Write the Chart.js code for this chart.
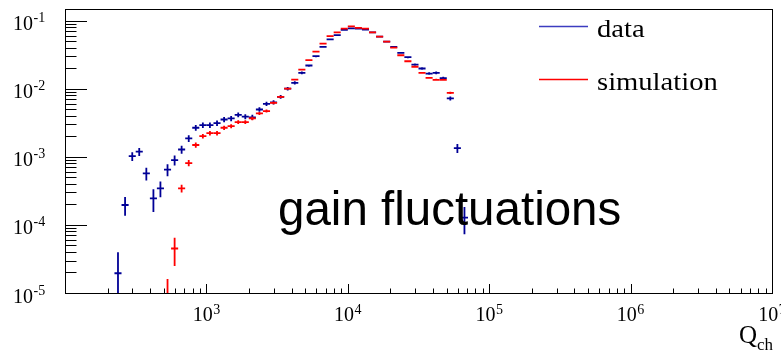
<!DOCTYPE html>
<html>
<head>
<meta charset="utf-8">
<script src="https://cdn.jsdelivr.net/npm/chart.js@4.4.1/dist/chart.umd.min.js"></script>
<style>
html,body{margin:0;padding:0;background:#fff;}
#wrap{width:781px;height:353px;}
</style>
</head>
<body>
<div id="wrap"><canvas id="c" width="781" height="353"></canvas></div>
<script>
// Bin centres (Q_ch), 20 log bins per decade
const binCenters = [237, 266, 299, 335, 376, 422, 473, 531, 596, 668,
  750, 841, 944, 1059, 1189, 1334, 1496, 1679, 1884, 2113,
  2371, 2661, 2985, 3350, 3758, 4217, 4732, 5309, 5957, 6683,
  7499, 8414, 9441, 10593, 11885, 13335, 14962, 16788, 18836, 21135,
  23714, 26607, 29854, 33497, 37584, 42170, 47315, 53088, 59566, 66834];
const binHalfWidthDex = 0.025;

const dataValues = [1.95e-5, 1.96e-4, 1.02e-3, 1.19e-3, 5.7e-4, 2.45e-4, 3.44e-4, 6.5e-4, 8.95e-4, 1.28e-3,
  1.86e-3, 2.67e-3, 2.92e-3, 2.92e-3, 3.12e-3, 3.53e-3, 3.66e-3, 4.14e-3, 3.9e-3, 3.8e-3,
  4.95e-3, 6.0e-3, 6.3e-3, 7.6e-3, 1.0e-2, 1.22e-2, 1.71e-2, 2.19e-2, 3.0e-2, 4.1e-2,
  5.3e-2, 6.1e-2, 7.3e-2, 7.7e-2, 7.6e-2, 7.4e-2, 6.7e-2, 5.8e-2, 4.9e-2, 4.1e-2,
  3.36e-2, 2.9e-2, 2.26e-2, 1.98e-2, 1.67e-2, 1.71e-2, 1.43e-2, 7.2e-3, 1.34e-3, 1.28e-4];
const dataErrors = [2.0e-5, 6.0e-5, 1.5e-4, 1.6e-4, 1.2e-4, 9.0e-5, 9.0e-5, 1.3e-4, 1.5e-4, 1.7e-4,
  2.1e-4, 2.6e-4, 2.8e-4, 2.8e-4, 2.9e-4, 3.1e-4, 3.2e-4, 3.4e-4, 3.3e-4, 3.3e-4,
  3.7e-4, 4.2e-4, 4.4e-4, 4.9e-4, 5.6e-4, 6.3e-4, 7.4e-4, 8.4e-4, 9.8e-4, 1.15e-3,
  1.3e-3, 1.4e-3, 1.5e-3, 1.55e-3, 1.55e-3, 1.5e-3, 1.45e-3, 1.35e-3, 1.25e-3, 1.15e-3,
  1.05e-3, 9.7e-4, 8.6e-4, 8.0e-4, 7.4e-4, 7.5e-4, 6.9e-4, 4.9e-4, 2.0e-4, 5.5e-5];

const simValues = [null, null, null, null, null, null, null, 8e-6, 4.5e-5, 3.44e-4,
  8.1e-4, 1.49e-3, 2.01e-3, 2.23e-3, 2.23e-3, 2.67e-3, 2.82e-3, 3.23e-3, 3.23e-3, 3.66e-3,
  4.33e-3, 4.7e-3, 6.2e-3, 7.6e-3, 1.0e-2, 1.36e-2, 1.91e-2, 2.62e-2, 3.5e-2, 4.6e-2,
  5.9e-2, 6.7e-2, 7.6e-2, 8.2e-2, 7.8e-2, 7.6e-2, 6.7e-2, 5.8e-2, 4.9e-2, 4.0e-2,
  3.1e-2, 2.53e-2, 2.1e-2, 1.71e-2, 1.44e-2, 1.35e-2, 1.35e-2, 8.7e-3, null, null];
const simErrors = [null, null, null, null, null, null, null, 8e-6, 2.0e-5, 4.5e-5,
  8.5e-5, 1.3e-4, 1.6e-4, 1.7e-4, 1.7e-4, 1.9e-4, 1.9e-4, 2.0e-4, 2.0e-4, 2.1e-4,
  2.3e-4, 2.4e-4, 2.8e-4, 3.1e-4, 3.6e-4, 4.2e-4, 5.0e-4, 5.9e-4, 6.9e-4, 7.9e-4,
  8.9e-4, 9.5e-4, 1.0e-3, 1.05e-3, 1.03e-3, 1.0e-3, 9.5e-4, 8.9e-4, 8.1e-4, 7.4e-4,
  6.5e-4, 5.9e-4, 5.4e-4, 4.9e-4, 4.5e-4, 4.4e-4, 4.4e-4, 3.5e-4, null, null];

const seriesNames = ['data', 'simulation'];
const xTickExponents = [3, 4, 5, 6, 7];
const yTickExponents = [-1, -2, -3, -4, -5];
const xAxisTitle = ['Q', 'ch'];
const annotationText = 'gain fluctuations';

const colData = '#000096';
const colSim = '#ff0000';

function pts(vals, errs) {
  return binCenters.map((c, i) => ({x: c, y: vals[i], e: errs[i]}));
}

const rootPlugin = {
  id: 'rootStyle',
  afterDatasetsDraw(chart) {
    const ctx = chart.ctx, a = chart.chartArea;
    const xs = chart.scales.x, ys = chart.scales.y;
    const f = Math.pow(10, binHalfWidthDex);
    // error-bar crosses
    ctx.save();
    ctx.beginPath();
    ctx.rect(a.left, a.top, a.right - a.left, a.bottom - a.top);
    ctx.clip();
    chart.data.datasets.forEach(ds => {
      ctx.strokeStyle = ds.borderColor;
      ctx.lineWidth = ds.borderWidth;
      ds.data.forEach(p => {
        if (p.y == null) return;
        const px = xs.getPixelForValue(p.x);
        const py = ys.getPixelForValue(p.y);
        const xl = xs.getPixelForValue(p.x / f);
        const xr = xs.getPixelForValue(p.x * f);
        const yt = ys.getPixelForValue(p.y + p.e);
        const lo = p.y - p.e;
        const yb = lo > 0 ? ys.getPixelForValue(lo) : a.bottom + 5;
        ctx.beginPath();
        ctx.moveTo(xl, py); ctx.lineTo(xr, py);
        ctx.moveTo(px, yt); ctx.lineTo(px, yb);
        ctx.stroke();
      });
    });
    ctx.restore();

    // frame
    ctx.save();
    ctx.strokeStyle = '#000';
    ctx.lineWidth = 1;
    ctx.strokeRect(Math.round(a.left) + 0.5, Math.round(a.top) + 0.5,
      Math.round(a.right - a.left), Math.round(a.bottom - a.top));

    // y ticks (inside)
    ctx.beginPath();
    for (let d = -5; d <= -1; d++) {
      for (let m = 1; m <= 9; m++) {
        const v = m * Math.pow(10, d);
        if (v < ys.min * 0.999 || v > ys.max) continue;
        const py = Math.round(ys.getPixelForValue(v)) + 0.5;
        const len = m === 1 ? 22 : 11.5;
        ctx.moveTo(a.left, py); ctx.lineTo(a.left + len, py);
      }
    }
    // x ticks (inside)
    for (let d = 2; d <= 7; d++) {
      for (let m = 1; m <= 9; m++) {
        const v = m * Math.pow(10, d);
        if (v < xs.min * 0.999 || v > xs.max * 1.001) continue;
        const px = Math.round(xs.getPixelForValue(v)) + 0.5;
        const len = m === 1 ? 9 : 4.5;
        ctx.moveTo(px, a.bottom); ctx.lineTo(px, a.bottom - len);
      }
    }
    ctx.stroke();

    // tick labels
    ctx.fillStyle = '#000';
    ctx.textBaseline = 'alphabetic';
    ctx.textAlign = 'left';
    const big = '20px "Liberation Serif", "Times New Roman", serif';
    const sup = '14px "Liberation Serif", "Times New Roman", serif';
    yTickExponents.forEach(e => {
      const py = ys.getPixelForValue(Math.pow(10, e));
      ctx.font = big;
      ctx.fillText('10', 13, py + 9.5);
      const w = ctx.measureText('10').width;
      ctx.font = sup;
      ctx.fillText(String(e), 13 + w + 0.5, py + 1.5);
    });
    xTickExponents.forEach(e => {
      const px = xs.getPixelForValue(Math.pow(10, e));
      ctx.font = big;
      const w1 = ctx.measureText('10').width;
      ctx.font = sup;
      const w2 = ctx.measureText(String(e)).width;
      const x0 = px - (w1 + w2 + 0.5) / 2;
      ctx.font = big;
      ctx.fillText('10', x0, 321);
      ctx.font = sup;
      ctx.fillText(String(e), x0 + w1 + 0.5, 314);
    });

    // axis title Q_ch
    ctx.font = '25px "Liberation Serif", "Times New Roman", serif';
    ctx.fillText(xAxisTitle[0], 739, 343);
    const wq = ctx.measureText(xAxisTitle[0]).width;
    ctx.font = '17px "Liberation Serif", "Times New Roman", serif';
    ctx.fillText(xAxisTitle[1], 739 + wq, 350);

    // legend
    const legendCols = ['#3c3cc0', colSim];
    const legendY = [26, 79];
    seriesNames.forEach((n, i) => {
      ctx.strokeStyle = legendCols[i];
      ctx.lineWidth = 1.3;
      ctx.beginPath();
      ctx.moveTo(539, legendY[i] + 0.5); ctx.lineTo(588, legendY[i] + 0.5);
      ctx.stroke();
      ctx.save();
      ctx.font = '26px "Liberation Serif", "Times New Roman", serif';
      ctx.translate(597, legendY[i] + 11);
      ctx.scale(1.1, 1);
      ctx.fillStyle = '#000';
      ctx.fillText(n, 0, 0);
      ctx.restore();
    });

    // annotation
    ctx.font = '47.5px "Liberation Sans", Arial, sans-serif';
    ctx.fillStyle = '#000';
    ctx.fillText(annotationText, 278, 225);
    ctx.restore();
  }
};

new Chart(document.getElementById('c'), {
  type: 'scatter',
  data: {
    datasets: [
      {label: seriesNames[0], data: pts(dataValues, dataErrors), borderColor: colData, backgroundColor: colData, borderWidth: 1.8, pointRadius: 0, showLine: false},
      {label: seriesNames[1], data: pts(simValues, simErrors), borderColor: colSim, backgroundColor: colSim, borderWidth: 1.8, pointRadius: 0, showLine: false}
    ]
  },
  options: {
    responsive: false,
    devicePixelRatio: 1,
    animation: false,
    layout: {padding: {left: 65, top: 9, right: 9, bottom: 60}},
    plugins: {legend: {display: false}, tooltip: {enabled: false}},
    scales: {
      x: {type: 'logarithmic', min: 100, max: 1e7, display: false},
      y: {type: 'logarithmic', min: 1e-5, max: 0.148, display: false}
    }
  },
  plugins: [rootPlugin]
});
</script>
</body>
</html>
